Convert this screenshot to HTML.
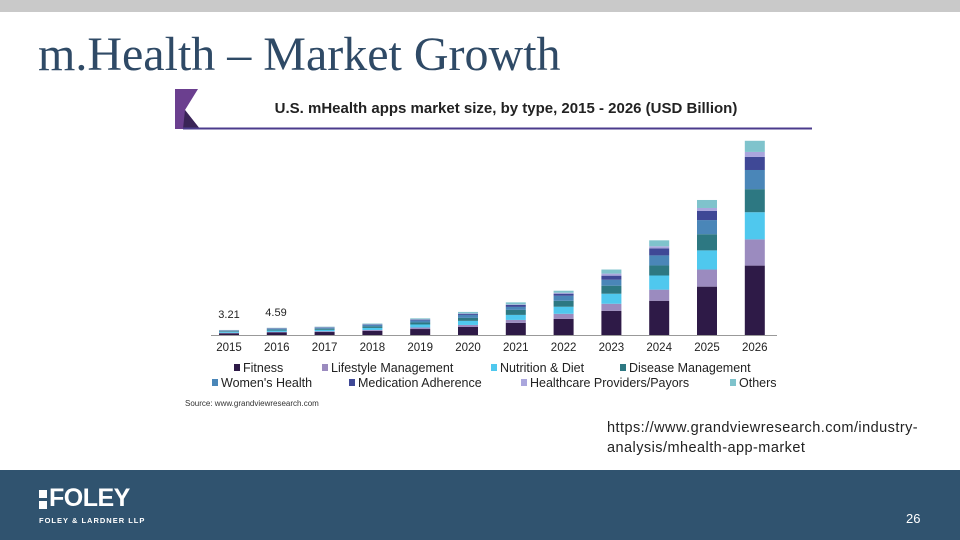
<!DOCTYPE html>
<html><head><meta charset="utf-8"><style>
body{margin:0;width:960px;height:540px;position:relative;overflow:hidden;background:#fff;font-family:"Liberation Sans",sans-serif}
.abs{position:absolute}
</style></head><body>
<div class="abs" style="left:0;top:0;width:960px;height:12px;background:#c9c9c9"></div>
<div class="abs" style="left:38px;top:27px;font-family:'Liberation Serif',serif;font-size:48px;color:#2f4a66;white-space:nowrap">m.Health – Market Growth</div>
<svg class="abs" style="left:0;top:0" width="960" height="470" id="chart">
  <polygon points="175,89 198,89 185,110 200,129 175,129" fill="#6b3f8f"/>
  <polygon points="185,110 200,129 183,129" fill="#3a2457"/>
  <line x1="183" y1="128.5" x2="812" y2="128.5" stroke="#4b3b8c" stroke-width="2"/>
  <text x="506" y="113" text-anchor="middle" font-size="15" font-weight="bold" fill="#222">U.S. mHealth apps market size, by type, 2015 - 2026 (USD Billion)</text>
  <line x1="211" y1="335.5" x2="777" y2="335.5" stroke="#999" stroke-width="1"/>
  <g id="bars"></g>
  <text x="229" y="318" text-anchor="middle" font-size="11" fill="#222">3.21</text>
  <text x="276" y="316" text-anchor="middle" font-size="11" fill="#222">4.59</text>
  <g id="legend" font-size="12.5" fill="#222"></g>
  <text x="185" y="406" font-size="8" fill="#333">Source: www.grandviewresearch.com</text>
</svg>
<div class="abs" style="left:607px;top:418px;font-size:14.5px;line-height:20px;letter-spacing:0.45px;color:#222">https://www.grandviewresearch.com/industry-<br>analysis/mhealth-app-market</div>
<div class="abs" style="left:0;top:470px;width:960px;height:70px;background:#30536f">
  <div class="abs" style="left:39px;top:20px;width:8px;height:8px;background:#fff"></div>
  <div class="abs" style="left:39px;top:31px;width:8px;height:8px;background:#fff"></div>
  <div class="abs" style="left:49px;top:14px;font-size:25px;font-weight:bold;color:#fff;letter-spacing:-0.5px">FOLEY</div>
  <div class="abs" style="left:39px;top:46px;font-size:7.5px;font-weight:bold;color:#fff;letter-spacing:1px">FOLEY &amp; LARDNER LLP</div>
  <div class="abs" style="left:906px;top:41px;font-size:13px;color:#fff">26</div>
</div>
<script>
const years=['2015','2016','2017','2018','2019','2020','2021','2022','2023','2024','2025','2026'];
const seriesNames=['Fitness','Lifestyle Management','Nutrition & Diet','Disease Management',"Women's Health",'Medication Adherence','Healthcare Providers/Payors','Others'];
const fitness=[1.1,1.6,1.9,2.6,3.8,5.1,7.7,10.3,15.4,21.8,30.8,44.2];
const lifestyle=[0.3,0.4,0.5,0.6,1.0,1.3,1.9,3.2,4.5,7.1,10.9,16.7];
const nutrition=[0.6,0.8,0.9,1.3,1.9,2.6,3.2,4.5,6.4,9.0,12.2,17.3];
const disease=[0.4,0.6,0.7,1.0,1.3,1.9,3.2,3.8,5.1,6.4,10.3,14.7];
const womens=[0.35,0.5,0.6,1.0,1.3,1.9,1.9,3.2,3.8,6.4,9.0,12.2];
const medication=[0.2,0.3,0.3,0.3,0.5,0.6,1.3,1.3,2.6,4.5,5.8,8.3];
const providers=[0.06,0.09,0.1,0.1,0.2,0.3,0.3,0.6,1.3,1.3,1.9,3.2];
const others=[0.2,0.3,0.3,0.4,0.6,1.0,1.3,1.3,2.6,3.8,5.1,7.1];
const series=[fitness,lifestyle,nutrition,disease,womens,medication,providers,others];
const colors=['#2e1a47','#9b8bbf','#4fc8ee','#2d7882','#4a86b8','#3f4896','#aaa6dd','#7fc3cc'];
const NS='http://www.w3.org/2000/svg';
const x0=229,step=47.8,base=335,pxPer=1.57,bw=20;
function xPos(i){return x0+i*step;}
function yLen(v){return v*pxPer;}
const g=document.getElementById('bars');
years.forEach((yr,i)=>{
  let y=base;
  series.forEach((s,k)=>{
    const h=yLen(s[i]);y-=h;
    const r=document.createElementNS(NS,'rect');
    r.setAttribute('x',xPos(i)-bw/2);r.setAttribute('y',y);r.setAttribute('width',bw);r.setAttribute('height',h);r.setAttribute('fill',colors[k]);
    
    
    g.appendChild(r);
  });
  const t=document.createElementNS(NS,'text');
  t.setAttribute('x',xPos(i));t.setAttribute('y',351);t.setAttribute('text-anchor','middle');t.setAttribute('font-size','11.5');t.setAttribute('fill','#222');
  t.textContent=yr;
  
  
  g.appendChild(t);
});
const lg=document.getElementById('legend');
const lx=[243,331,500,629,221,358,530,739];
const ly=[372,372,372,372,387,387,387,387];
seriesNames.forEach((n,k)=>{
  const r=document.createElementNS(NS,'rect');
  r.setAttribute('x',lx[k]-9);r.setAttribute('y',ly[k]-8);r.setAttribute('width',6);r.setAttribute('height',7);r.setAttribute('fill',colors[k]);
  
  
  lg.appendChild(r);
  const t=document.createElementNS(NS,'text');
  t.setAttribute('x',lx[k]);t.setAttribute('y',ly[k]);t.textContent=n;
  
  
  lg.appendChild(t);
});
</script>
</body></html>
